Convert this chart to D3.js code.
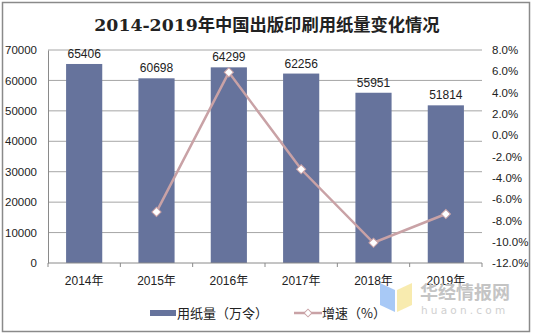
<!DOCTYPE html>
<html><head><meta charset="utf-8">
<script src="https://cdn.jsdelivr.net/npm/d3@7"></script>
<style>body{margin:0;background:#fff}svg{display:block}</style>
</head><body>
<svg id="c" width="534" height="335"></svg>
<script>
const years = ["2014年","2015年","2016年","2017年","2018年","2019年"];
const usage = [65406, 60698, 64299, 62256, 55951, 51814];
const growth = [null, -7.2, 5.9, -3.2, -10.1, -7.4];
const leftTicks = [0,10000,20000,30000,40000,50000,60000,70000];
const rightTicks = [-12,-10,-8,-6,-4,-2,0,2,4,6,8];
const title = "2014-2019年中国出版印刷用纸量变化情况";
const legendLabels = ["用纸量（万令）","增速（%）"];

const svg = d3.select("#c");
const barColor = "#66739c", lineColor = "#c9a2a6", gridColor = "#a6a6a6";
const m = {l:48, r:482, t:50, b:263};

svg.append("rect").attr("x",2.5).attr("y",2.5).attr("width",527).attr("height",329)
  .attr("fill","#fff").attr("stroke","#8a8a8a").attr("stroke-width",1.5);

svg.append("text").attr("x",267).attr("y",31).attr("text-anchor","middle")
  .attr("font-family","'DejaVu Serif','Noto Sans CJK SC',serif").attr("font-weight","bold")
  .attr("font-size",17.3).attr("fill","#222").text(title);

const x = d3.scaleBand().domain(years).range([m.l,m.r]).paddingInner(0.5).paddingOuter(0.25);
const y = d3.scaleLinear().domain([0,70000]).range([m.b,m.t]);
const y2 = d3.scaleLinear().domain([-12,8]).range([m.b,m.t]);

// gridlines
svg.append("g").selectAll("line").data(leftTicks.filter(d=>d>0)).join("line")
  .attr("x1",m.l).attr("x2",m.r).attr("y1",d=>y(d)).attr("y2",d=>y(d))
  .attr("stroke",gridColor).attr("stroke-width",1);

// left axis
const la = svg.append("g").attr("transform",`translate(${m.l},0)`)
  .call(d3.axisLeft(y).tickValues(leftTicks).tickFormat(d3.format("d")).tickSize(0).tickPadding(11));
la.select(".domain").attr("stroke","#8a8a8a");
la.selectAll("text").attr("font-family","'Liberation Sans',Arial,sans-serif").attr("font-size",11.5).attr("fill","#222");

// right axis
const ra = svg.append("g").attr("transform",`translate(${m.r},0)`)
  .call(d3.axisRight(y2).tickValues(rightTicks).tickFormat(d=>d.toFixed(1)+"%").tickSize(0).tickPadding(0));
ra.select(".domain").remove();
ra.selectAll("text").attr("x",10).attr("font-family","'Liberation Sans',Arial,sans-serif").attr("font-size",11.5).attr("fill","#222");

// bars
svg.append("g").selectAll("rect").data(usage).join("rect")
  .attr("x",(d,i)=>x(years[i])).attr("width",x.bandwidth())
  .attr("y",d=>y(d)).attr("height",d=>y(0)-y(d)).attr("fill",barColor);

// bottom axis
const xa = svg.append("g").attr("transform",`translate(0,${m.b})`);
xa.append("line").attr("x1",m.l).attr("x2",m.r).attr("stroke","#8a8a8a");
const bounds = d3.range(years.length+1).map(i=>m.l + i*(m.r-m.l)/years.length);
xa.selectAll("line.t").data(bounds).join("line").attr("class","t")
  .attr("x1",d=>d).attr("x2",d=>d).attr("y1",0).attr("y2",4).attr("stroke","#8a8a8a");
xa.selectAll("text").data(years).join("text")
  .attr("x",d=>x(d)+x.bandwidth()/2).attr("y",22).attr("text-anchor","middle")
  .attr("font-family","'Liberation Sans','Noto Sans CJK SC',sans-serif").attr("font-size",12).attr("fill","#222")
  .text(d=>d);

// data labels
svg.append("g").selectAll("text").data(usage).join("text")
  .attr("x",(d,i)=>x(years[i])+x.bandwidth()/2).attr("y",d=>y(d)-6).attr("text-anchor","middle")
  .attr("font-family","'Liberation Sans',Arial,sans-serif").attr("font-size",12).attr("fill","#222").text(d=>d);

// line
const pts = growth.map((g,i)=>({g,i})).filter(d=>d.g!==null);
const cx = d=>x(years[d.i])+x.bandwidth()/2;
svg.append("path").datum(pts)
  .attr("d",d3.line().x(cx).y(d=>y2(d.g)))
  .attr("fill","none").attr("stroke",lineColor).attr("stroke-width",2.5);
svg.append("g").selectAll("path").data(pts).join("path")
  .attr("d",d3.symbol().type(d3.symbolSquare).size(42))
  .attr("transform",d=>`translate(${cx(d)},${y2(d.g)}) rotate(45)`)
  .attr("fill","#fff").attr("stroke",lineColor).attr("stroke-width",1);

// watermark
const wm = svg.append("g");
wm.append("path").attr("d","M380,283 L395,290 L395,312 L380,305 Z").attr("fill","#9fc3f5").attr("opacity",0.9);
wm.append("path").attr("d","M397,290 L412,283 L412,305 L397,312 Z").attr("fill","#f7e9a6").attr("opacity",0.9);
wm.append("text").attr("x",420).attr("y",299).attr("font-family","'Noto Sans CJK SC',sans-serif")
  .attr("font-weight","bold").attr("font-size",18).attr("fill","#c4c4c4").text("华经情报网");
wm.append("text").attr("x",421).attr("y",314).attr("font-family","'DejaVu Sans',sans-serif")
  .attr("font-size",10.5).attr("letter-spacing",3.2).attr("fill","#d0d0d0").text("huaon.com");

// legend
const lg = svg.append("g");
lg.append("rect").attr("x",150).attr("y",310).attr("width",26).attr("height",6).attr("fill",barColor);
lg.append("text").attr("x",177).attr("y",318).attr("font-family","'Noto Sans CJK SC',sans-serif")
  .attr("font-size",13).attr("fill","#222").text(legendLabels[0]);
lg.append("line").attr("x1",294).attr("x2",322).attr("y1",313).attr("y2",313).attr("stroke",lineColor).attr("stroke-width",2.5);
lg.append("path").attr("transform","translate(308,313) rotate(45)").attr("d",d3.symbol().type(d3.symbolSquare).size(30))
  .attr("fill","#fff").attr("stroke",lineColor).attr("stroke-width",1);
lg.append("text").attr("x",322).attr("y",318).attr("font-family","'Noto Sans CJK SC',sans-serif")
  .attr("font-size",13).attr("fill","#222").text(legendLabels[1]);
</script>
</body></html>
